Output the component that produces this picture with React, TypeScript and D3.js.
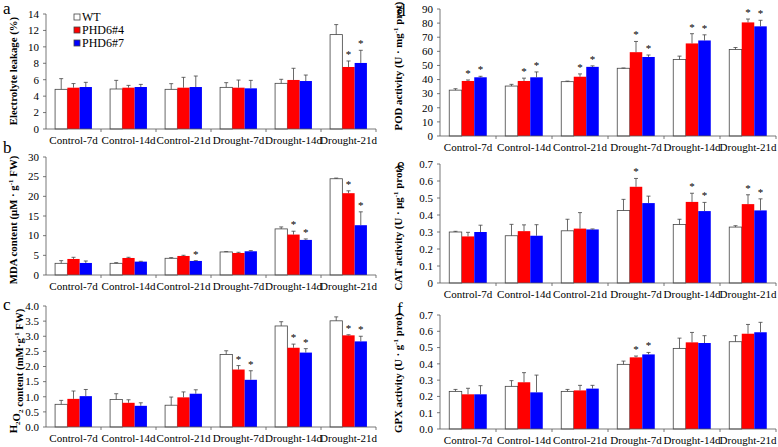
import React from 'react'
import * as d3 from 'd3'

// groups on the x axis, same for all six panels
const categories = ['Control-7d', 'Control-14d', 'Control-21d', 'Drought-7d', 'Drought-14d', 'Drought-21d']
const seriesNames = ['WT', 'PHD6#4', 'PHD6#7']
const seriesColors = ['#ffffff', '#ff0000', '#0000ff']

// a: electrolyte leakage (%), rows = WT, PHD6#4, PHD6#7
const leakageMean = [
  [4.83, 4.87, 4.83, 5.07, 5.56, 11.49],
  [5.03, 5.03, 5.03, 5.03, 5.97, 7.55],
  [5.11, 5.11, 5.11, 4.95, 5.84, 8.04],
]
const leakageErr = [
  [1.3, 1.05, 0.69, 0.57, 0.49, 1.22],
  [0.5, 0.28, 1.26, 0.93, 1.42, 0.73],
  [0.57, 0.32, 1.34, 0.97, 0.73, 1.54],
]
const leakageSig = [
  [0, 0, 0, 0, 0, 0],
  [0, 0, 0, 0, 0, 1],
  [0, 0, 0, 0, 0, 1],
]

// b: MDA content
const mdaMean = [
  [2.97, 2.97, 4.25, 5.86, 11.72, 24.47],
  [4.08, 4.33, 4.84, 5.6, 10.28, 20.8],
  [3.06, 3.4, 3.57, 6.03, 8.92, 12.66],
]
const mdaErr = [
  [0.68, 0.17, 0.17, 0.08, 0.5, 0.17],
  [0.42, 0.17, 0.17, 0.17, 0.85, 0.6],
  [0.5, 0.08, 0.08, 0.17, 0.25, 3.4],
]
const mdaSig = [
  [0, 0, 0, 0, 0, 0],
  [0, 0, 0, 0, 1, 1],
  [0, 0, 1, 0, 1, 1],
]

// c: H2O2 content
const h2o2Mean = [
  [0.75, 0.91, 0.72, 2.4, 3.34, 3.51],
  [0.93, 0.8, 0.98, 1.9, 2.62, 3.03],
  [1.02, 0.7, 1.1, 1.56, 2.46, 2.83],
]
const h2o2Err = [
  [0.13, 0.19, 0.27, 0.12, 0.14, 0.13],
  [0.26, 0.1, 0.18, 0.13, 0.12, 0.02],
  [0.22, 0.1, 0.13, 0.3, 0.13, 0.17],
]
const h2o2Sig = [
  [0, 0, 0, 0, 0, 0],
  [0, 0, 0, 1, 1, 1],
  [0, 0, 0, 1, 1, 1],
]

// d: POD activity
const podMean = [
  [32.5, 35.4, 38.5, 48, 54.2, 61.3],
  [39, 39, 42, 59.4, 65.6, 80.5],
  [41.6, 41.6, 49, 56, 67.7, 77.7],
]
const podErr = [
  [1, 1.2, 0.4, 0.2, 2.4, 1.4],
  [0.7, 2, 2, 7.6, 6.9, 2.4],
  [0.7, 3.8, 0.7, 1.4, 4, 4.3],
]
const podSig = [
  [0, 0, 0, 0, 0, 0],
  [1, 1, 1, 1, 1, 1],
  [1, 1, 1, 1, 1, 1],
]

// e: CAT activity
const catMean = [
  [0.3, 0.278, 0.307, 0.427, 0.344, 0.329],
  [0.274, 0.305, 0.32, 0.566, 0.477, 0.464],
  [0.3, 0.278, 0.315, 0.47, 0.423, 0.427],
]
const catErr = [
  [0.004, 0.067, 0.068, 0.065, 0.031, 0.008],
  [0.024, 0.037, 0.094, 0.049, 0.051, 0.055],
  [0.04, 0.065, 0.003, 0.041, 0.051, 0.068],
]
const catSig = [
  [0, 0, 0, 0, 0, 0],
  [0, 0, 0, 1, 1, 1],
  [0, 0, 0, 0, 1, 1],
]

// f: GPX activity
const gpxMean = [
  [0.231, 0.262, 0.231, 0.397, 0.495, 0.536],
  [0.213, 0.287, 0.237, 0.44, 0.532, 0.585],
  [0.213, 0.225, 0.248, 0.458, 0.528, 0.594],
]
const gpxErr = [
  [0.012, 0.035, 0.012, 0.02, 0.063, 0.037],
  [0.037, 0.059, 0.031, 0.008, 0.061, 0.057],
  [0.053, 0.106, 0.02, 0.012, 0.045, 0.061],
]
const gpxSig = [
  [0, 0, 0, 0, 0, 0],
  [0, 0, 0, 1, 0, 0],
  [0, 0, 0, 1, 0, 0],
]

const FONT = 'Liberation Serif, Times New Roman, serif'
const AXIS = '#555'

// superscript / subscript via dy so it works on rotated text too
const sup = (s) => (
  <>
    <tspan dy="-4" fontSize="7">{s}</tspan>
    <tspan dy="4"> </tspan>
  </>
)
const sub = (s) => (
  <>
    <tspan dy="3" fontSize="7">{s}</tspan>
    <tspan dy="-3">{''}</tspan>
  </>
)

function Panel({ letter, title, mean, err, sig, max, step, fmt, x0, x1, top, bottom, titleX, titleY, letterY }) {
  const x = d3.scaleBand().domain(categories).range([x0, x1])
  const bw = x.bandwidth()
  const pad = bw * 0.165
  const xs = d3.scaleBand().domain(seriesNames).range([pad, bw - pad])
  const y = d3.scaleLinear().domain([0, max]).range([bottom, top])
  const ticks = d3.range(0, max + step / 2, step)

  return (
    <g>
      <text x={x0 - 43} y={letterY} fontSize="17">{letter}</text>
      <text
        transform={`translate(${titleX},${titleY}) rotate(-90)`}
        textAnchor="middle"
        fontSize="10.8"
        fontWeight="bold"
      >
        {title}
      </text>

      {/* bars */}
      {seriesNames.map((s, si) =>
        categories.map((c, ci) => {
          const bx = x(c) + xs(s)
          const v = mean[si][ci]
          const e = err[si][ci]
          const cx = bx + xs.bandwidth() / 2
          return (
            <g key={s + c}>
              <rect
                x={bx}
                y={y(v)}
                width={xs.bandwidth()}
                height={bottom - y(v)}
                fill={seriesColors[si]}
                stroke={si === 0 ? '#444' : 'none'}
                strokeWidth="0.8"
              />
              <line x1={cx} x2={cx} y1={y(v)} y2={y(v + e)} stroke="#444" strokeWidth="0.8" />
              <line x1={cx - 2} x2={cx + 2} y1={y(v + e)} y2={y(v + e)} stroke="#444" strokeWidth="0.8" />
              {sig[si][ci] ? (
                <text x={cx} y={y(v + e) - 3} textAnchor="middle" fontSize="11">*</text>
              ) : null}
            </g>
          )
        })
      )}

      {/* y axis */}
      <line x1={x0} x2={x0} y1={top} y2={bottom} stroke={AXIS} strokeWidth="0.8" />
      {ticks.map((t) => (
        <g key={t}>
          <line x1={x0 - 3} x2={x0} y1={y(t)} y2={y(t)} stroke={AXIS} strokeWidth="0.8" />
          <text x={x0 - 7} y={y(t) + 3.8} textAnchor="end" fontSize="11">{fmt(t)}</text>
        </g>
      ))}

      {/* x axis */}
      <line x1={x0} x2={x1} y1={bottom} y2={bottom} stroke={AXIS} strokeWidth="0.8" />
      {categories.map((c) => (
        <g key={c}>
          <line x1={x(c) + bw} x2={x(c) + bw} y1={bottom} y2={bottom + 3} stroke={AXIS} strokeWidth="0.8" />
          <text x={x(c) + bw / 2} y={bottom + 15} textAnchor="middle" fontSize="11">{c}</text>
        </g>
      ))}
    </g>
  )
}

function Legend() {
  return (
    <g fontSize="12">
      {seriesNames.map((s, i) => (
        <g key={s} transform={`translate(74,${17 + i * 13})`}>
          <rect x="0" y="-3" width="6" height="6" fill={seriesColors[i]} stroke="#444" strokeWidth="0.8" />
          <text x="8" y="4">{s}</text>
        </g>
      ))}
    </g>
  )
}

const f0 = d3.format('d')
const f1 = d3.format('.1f')
const fCat = (t) => (t === 0 ? '0' : d3.format('.1f')(t))

export default function App() {
  return (
    <svg
      width={778}
      height={447}
      style={{ position: 'absolute', left: 0, top: 0, background: '#fff', fontFamily: FONT }}
    >
      <Panel
        letter="a"
        title="Electrolyte leakage (%)"
        mean={leakageMean} err={leakageErr} sig={leakageSig}
        max={14} step={2} fmt={f0}
        x0={46} x1={376} top={14} bottom={129}
        titleX={17} titleY={71} letterY={14}
      />
      <Panel
        letter="b"
        title={<>MDA content (μM · g{sup('-1')}FW)</>}
        mean={mdaMean} err={mdaErr} sig={mdaSig}
        max={30} step={5} fmt={f0}
        x0={46} x1={376} top={157} bottom={275}
        titleX={17} titleY={220} letterY={153}
      />
      <Panel
        letter="c"
        title={<>H{sub('2')}O{sub('2')} content (mM·g{sup('-1')}FW)</>}
        mean={h2o2Mean} err={h2o2Err} sig={h2o2Sig}
        max={4} step={0.5} fmt={f1}
        x0={46} x1={376} top={306} bottom={427}
        titleX={17} titleY={371} letterY={310}
      />
      <Panel
        letter="d"
        title={<>POD activity (U · mg{sup('-1')}prot)</>}
        mean={podMean} err={podErr} sig={podSig}
        max={90} step={10} fmt={f0}
        x0={440} x1={776} top={9} bottom={136}
        titleX={402} titleY={66} letterY={16}
      />
      <Panel
        letter="e"
        title={<>CAT activity (U · μg{sup('-1')}prot)</>}
        mean={catMean} err={catErr} sig={catSig}
        max={0.7} step={0.1} fmt={fCat}
        x0={440} x1={776} top={164} bottom={283}
        titleX={402} titleY={228} letterY={170}
      />
      <Panel
        letter="f"
        title={<>GPX activity (U · g{sup('-1')}prot)</>}
        mean={gpxMean} err={gpxErr} sig={gpxSig}
        max={0.7} step={0.1} fmt={f1}
        x0={440} x1={776} top={315} bottom={429}
        titleX={402} titleY={373} letterY={314}
      />
      <Legend />
    </svg>
  )
}
